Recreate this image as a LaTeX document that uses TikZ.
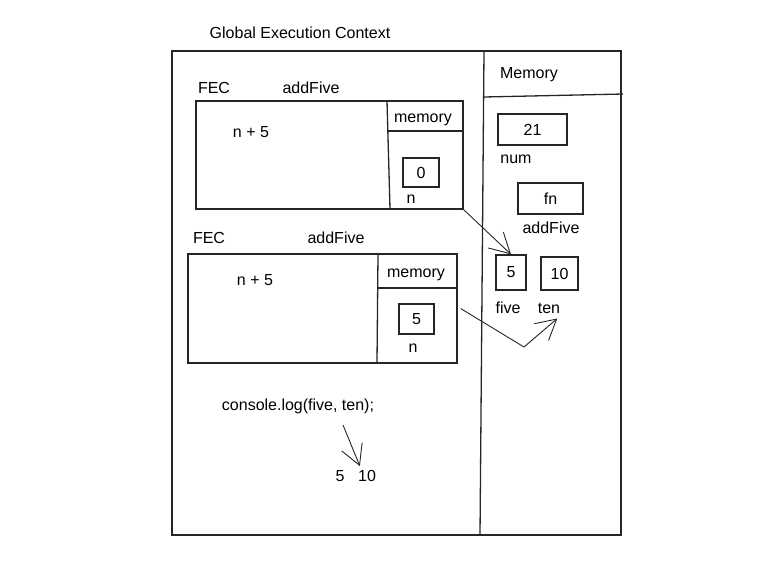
\documentclass[tikz,border=0pt]{standalone}
\usepackage{fontspec}
\setmainfont{Liberation Sans}
\usetikzlibrary{arrows.meta, positioning}

\tikzset{
  box/.style={draw=black!85, line width=1.3pt, inner sep=0pt, font=\fontsize{16}{19}\selectfont},
  txt/.style={inner sep=0pt, font=\fontsize{16}{19}\selectfont},
  rule/.style={draw=black!85, line width=1.3pt},
  sketcharrow/.style={draw=black!85, line width=0.9pt, -{Straight Barb[length=20pt,width=22pt]}}
}

\begin{document}
\begin{tikzpicture}[x=1pt, y=-1pt]
\useasboundingbox (0,0) rectangle (765,574);

% global context
\node[txt] (title) at (300,33) {Global Execution Context};
\node[box, minimum width=449pt, minimum height=484pt] (gec) at (396.5,293) {};
\draw[rule] (484,51) -- (480,535);
\draw[rule] (484,97) -- (623,94);
\node[txt] (memtitle) at (529,75) {Memory};

% first call
\node[txt] (fec1) at (214,88) {FEC};
\node[txt] (fname1) at (311,88) {addFive};
\node[box, minimum width=267pt, minimum height=108pt] (frame1) at (329.5,155) {};
\draw[rule] (387,101) -- (390,209);
\draw[rule] (387,131) -- (464,131);
\node[txt] (mem1) at (423,120) {memory};
\node[txt] (body1) at (251,132) {n + 5};
\node[box, minimum width=36pt, minimum height=29pt] (arg1) at (421,172.5) {0};
\node[txt] (argname1) at (411,199) {n};

% second call
\node[txt] (fec2) at (209,238) {FEC};
\node[txt] (fname2) at (336,238) {addFive};
\node[box, minimum width=269pt, minimum height=109pt] (frame2) at (322.5,308.5) {};
\draw[rule] (378,254) -- (377,363);
\draw[rule] (378,288) -- (457,288);
\node[txt] (mem2) at (416,275) {memory};
\node[txt] (body2) at (255,280) {n + 5};
\node[box, minimum width=35pt, minimum height=30pt] (arg2) at (416.5,319) {5};
\node[txt] (argname2) at (413,348) {n};

% global memory
\node[box, minimum width=69pt, minimum height=31pt] (num) at (532.5,129.5) {21};
\node[txt] (numlbl) at (516,159) {num};
\node[box, minimum width=65pt, minimum height=31pt] (fn) at (550.5,198.5) {fn};
\node[txt] (fnlbl) at (551,228) {addFive};
\node[box, minimum width=30pt, minimum height=35pt] (five) at (511,272.5) {5};
\node[box, minimum width=37pt, minimum height=33pt] (ten) at (559.5,273.5) {10};
\node[txt] (fivelbl) at (508,308) {five};
\node[txt] (tenlbl) at (549,308) {ten};

% output
\node[txt] (console) at (298,406) {console.log(five, ten);};
\node[txt] (outfive) at (340,476) {5};
\node[txt] (outten) at (367,476) {10};
\coordinate (logtail) at (343,425);
\coordinate (bend) at (524,347);

\draw[sketcharrow] (frame1.south east) -- (five.north);
\draw[sketcharrow] ([xshift=3pt]frame2.east) -- (bend) -- ([xshift=-3pt,yshift=-5pt]tenlbl.south east);
\draw[sketcharrow] (logtail) -- ([xshift=2pt,yshift=4pt]outten.north west);
\end{tikzpicture}
\end{document}
